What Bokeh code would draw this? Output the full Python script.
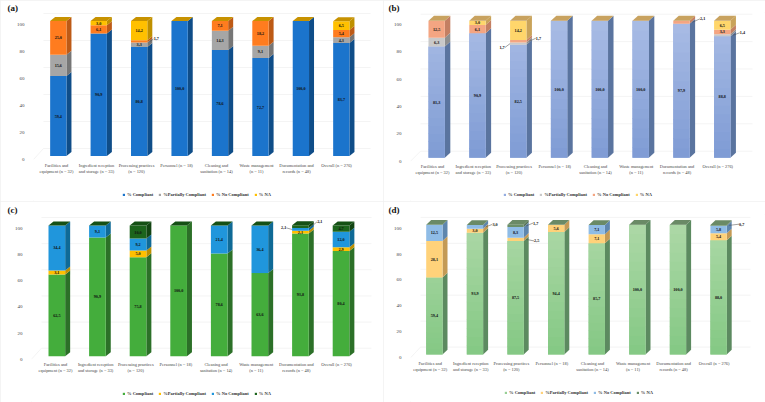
from math import pi
from bokeh.plotting import figure
from bokeh.layouts import column, row
from bokeh.models import (Range1d, FixedTicker, Legend, LegendItem, Label)
from bokeh.core.properties import value
from bokeh.embed import file_html
from bokeh.resources import INLINE

categories = ["Facilities and\nequipment (n = 32)", "Ingredient reception\nand storage (n = 33)",
              "Processing practices\n(n = 120)", "Personnel (n = 18)", "Cleaning and\nsanitation (n = 14)",
              "Waste management\n(n = 11)", "Documentation and\nrecords (n = 48)", "Overall (n = 276)"]
series_names = ["% Compliant", "%Partially Compliant", "% No Compliant", "% NA"]
y_ticks = [0, 20, 40, 60, 80, 100]

a_compliant = [59.4, 90.9, 80.8, 100.0, 78.6, 72.7, 100.0, 83.7]
a_partial = [15.6, 0, 3.3, 0, 14.3, 9.1, 0, 4.3]
a_no = [25.0, 6.1, 1.7, 0, 7.1, 18.2, 0, 5.4]
a_na = [0, 3.0, 14.2, 0, 0, 0, 0, 6.5]

b_compliant = [81.3, 90.9, 82.5, 100.0, 100.0, 100.0, 97.9, 88.8]
b_partial = [6.3, 0, 1.7, 0, 0, 0, 0, 1.4]
b_no = [12.5, 6.1, 1.7, 0, 0, 0, 2.1, 3.3]
b_na = [0, 3.0, 14.2, 0, 0, 0, 0, 6.5]

c_compliant = [62.5, 90.9, 75.8, 100.0, 78.6, 63.6, 93.8, 80.4]
c_partial = [3.1, 0, 5.0, 0, 0, 0, 2.1, 2.9]
c_no = [34.4, 9.1, 9.2, 0, 21.4, 36.4, 2.1, 12.0]
c_na = [0, 0, 10.0, 0, 0, 0, 2.1, 4.7]

d_compliant = [59.4, 93.9, 87.5, 94.4, 85.7, 100.0, 100.0, 88.0]
d_partial = [28.1, 3.0, 2.5, 5.6, 7.1, 0, 0, 5.4]
d_no = [12.5, 3.0, 8.3, 0, 7.1, 0, 0, 5.8]
d_na = [0, 0, 1.7, 0, 0, 0, 0, 0.7]

SERIF = value("Liberation Serif")

PANELS = [
    dict(tag="(a)", data=[a_compliant, a_partial, a_no, a_na], fx=0, fy=0, w=383, h=201,
         c0=57.8, sp=40.43, hw=8.15, y0=159.0, sc=1.35, base=3.4, dx=5, dy=4, wx=10, wy=11,
         fl=33, wr=370, ft=12, l0=56, ls=40.0, laby=167.7, legx=122, legy=194.3, tagx=7, ylx=13.3, yly=88,
         front=["#1b74cc", "#a6a6a6", "#ff7c1f", "#ffc000"],
         side=["#0f4d88", "#767676", "#bd5a16", "#bf9000"], top="#c79200", grad=None,
         callouts=[(2, 2, 9, -2.5, "r")]),
    dict(tag="(b)", data=[b_compliant, b_partial, b_no, b_na], fx=383, fy=0, w=382, h=201,
         c0=436.15, sp=40.8, hw=8.17, y0=160.7, sc=1.37, base=3.4, dx=5.5, dy=5, wx=10, wy=10,
         fl=410, wr=752, ft=12, l0=432, ls=40.75, laby=169, legx=503, legy=194.3, tagx=388, ylx=394, yly=89,
         front=["#94ace0", "#c9c9c9", "#f4a582", "#ffd66b"],
         side=["#5a749f", "#8f8f8f", "#c47f62", "#c9a35a"], top="#c8a25f",
         grad=("#7e9bd4", "#a9bce5"),
         callouts=[(2, 1, -8, 4, "l"), (2, 2, 12, -3, "r"), (6, 2, 13, -3.4, "r"), (7, 1, 12, -2.4, "r")]),
    dict(tag="(c)", data=[c_compliant, c_partial, c_no, c_na], fx=0, fy=201, w=383, h=201,
         c0=56.33, sp=40.6, hw=8.33, y0=358.7, sc=1.307, base=3.0, dx=5, dy=4, wx=10, wy=11,
         fl=31, wr=371, ft=214, l0=55, ls=40.14, laby=367, legx=122, legy=393, tagx=7, ylx=12.7, yly=284,
         front=["#44ad3c", "#ffc000", "#2096dc", "#1c641c"],
         side=["#2c7028", "#bf9000", "#0f6a96", "#124412"], top="#155015", grad=None,
         callouts=[(6, 2, -8.4, -1.6, "l"), (6, 3, 11, -5, "r")]),
    dict(tag="(d)", data=[d_compliant, d_partial, d_no, d_na], fx=383, fy=201, w=382, h=201,
         c0=433.85, sp=40.6, hw=8.15, y0=357.3, sc=1.297, base=3.3, dx=5, dy=4.7, wx=10, wy=10.7,
         fl=410, wr=750, ft=214, l0=429.7, ls=40.57, laby=365.5, legx=504, legy=392.7, tagx=388, ylx=393, yly=282,
         front=["#98cf95", "#ffd27a", "#8fbce6", "#6b8f68"],
         side=["#5c8a60", "#c49a55", "#5e86ad", "#557254"], top="#6a8a66",
         grad=("#84c884", "#acd8a6"),
         callouts=[(1, 2, 12, -2.5, "r"), (2, 3, 12, -2.8, "r"), (2, 1, 13, 1.5, "r"), (7, 3, 15, -1.2, "r")]),
]


def mix(c1, c2, t):
    a = [int(c1[i:i + 2], 16) for i in (1, 3, 5)]
    b = [int(c2[i:i + 2], 16) for i in (1, 3, 5)]
    return "#%02x%02x%02x" % tuple(round(a[k] + (b[k] - a[k]) * t) for k in range(3))


def fmt(v):
    return f"{v:.1f}".replace(".", ",")


def panel(cfg):
    sp, sc, c0, y0 = cfg["sp"], cfg["sc"], cfg["c0"], cfg["y0"]
    right = cfg["fx"] + cfg["w"]
    bottom = cfg["fy"] + cfg["h"]
    x_start = (cfg["fl"] - c0) / sp
    x_end = (right - c0) / sp
    y_end = (y0 - cfg["ft"]) / sc
    y_start = (y0 - bottom) / sc
    p = figure(width=cfg["w"], height=cfg["h"], output_backend="svg", toolbar_location=None,
               x_range=Range1d(x_start, x_end), y_range=Range1d(y_start, y_end),
               x_axis_location=None, min_border_left=round(cfg["fl"] - cfg["fx"]), min_border_right=0,
               min_border_top=round(cfg["ft"] - cfg["fy"]), min_border_bottom=0,
               background_fill_color="white", border_fill_color="white")
    p.outline_line_color = None
    p.grid.visible = False

    p.title.text = cfg["tag"]
    p.title.align = "left"
    p.title.offset = cfg["tagx"] - cfg["fl"]
    p.title.standoff = 0
    p.title.text_font = "Liberation Serif"
    p.title.text_font_size = "9px"
    p.title.text_font_style = "bold"
    p.title.text_color = "#111111"

    hw = cfg["hw"] / sp
    dx = cfg["dx"] / sp
    dy = cfg["dy"] / sc
    wx = cfg["wx"] / sp
    wy = cfg["wy"] / sc
    base = cfg["base"] / sc

    gx, gy = [], []
    wall_right = (cfg["wr"] - c0) / sp
    for t in y_ticks:
        gx.append([x_start + wx, wall_right])
        gy.append([t + wy, t + wy])
    gx.append([x_start, x_start + wx])
    gy.append([0, wy])
    p.multi_line(gx, gy, line_color="#efefef", line_width=0.7)

    n = len(categories)
    leg_rend = []
    bottoms = [base] * n
    label_xs, label_ys, label_txt = [], [], []
    lead_x, lead_y = [], []
    call_x, call_y, call_txt = [], [], []
    callouts = {(c[0], c[1]): c for c in cfg["callouts"]}
    for sidx, vals in enumerate(cfg["data"]):
        tops = [b + v for b, v in zip(bottoms, vals)]
        lefts = [i - hw for i in range(n)]
        rights = [i + hw for i in range(n)]
        sx = [[r, r + dx, r + dx, r] for r, v in zip(rights, vals) if v > 0]
        sy = [[b, b + dy, t + dy, t] for b, t, v in zip(bottoms, tops, vals) if v > 0]
        p.patches(sx, sy, fill_color=cfg["side"][sidx], line_color=None)
        q = p.quad(left=lefts, right=rights, bottom=bottoms, top=tops,
                   fill_color=cfg["front"][sidx], line_color=None)
        leg_rend.append(q)
        if sidx == 0 and cfg["grad"]:
            strips = 14
            sl, sr, sb, st, sc2 = [], [], [], [], []
            for i in range(n):
                for k in range(strips):
                    lo = vals[i] * k / strips
                    hi = vals[i] * (k + 1) / strips
                    sl.append(lefts[i]); sr.append(rights[i])
                    sb.append(base + lo)
                    st.append(base + min(hi + 0.4, vals[i]))
                    sc2.append(mix(cfg["grad"][0], cfg["grad"][1], (lo + hi) / 200))
            p.quad(left=sl, right=sr, bottom=sb, top=st, fill_color=sc2, line_color=None)
        for i, v in enumerate(vals):
            if v <= 0:
                continue
            mid = bottoms[i] + v / 2
            key = (i, sidx)
            if key in callouts:
                _, _, ox, oy, side = callouts[key]
                ex = i + hw if side == "r" else i - hw
                tx = ex + ox / sp
                ty = mid - oy / sc
                call_x.append(tx); call_y.append(ty); call_txt.append(fmt(v))
                lead_x.append([ex + (dx / 2 if side == "r" else 0), tx - (2.7 / sp if side == "r" else -2.7 / sp)])
                lead_y.append([mid, ty])
            else:
                label_xs.append(i); label_ys.append(mid); label_txt.append(fmt(v))
        bottoms = tops

    tx = [[i - hw, i - hw + dx, i + hw + dx, i + hw] for i in range(n)]
    ty = [[t, t + dy, t + dy, t] for t in bottoms]
    p.patches(tx, ty, fill_color=cfg["top"], line_color=None)

    p.text(label_xs, label_ys, text=label_txt, text_font=SERIF, text_font_size="4.2px", text_font_style="bold",
           text_align="center", text_baseline="middle", text_color="#111111")
    if call_txt:
        p.multi_line(lead_x, lead_y, line_color="#444444", line_width=0.5)
        p.text(call_x, call_y, text=call_txt, text_font=SERIF, text_font_size="4.2px", text_font_style="bold",
               text_align="center", text_baseline="middle", text_color="#111111")

    yax = p.yaxis[0]
    yax.ticker = FixedTicker(ticks=y_ticks)
    yax.axis_line_color = None
    yax.major_tick_line_color = None
    yax.minor_tick_line_color = None
    yax.major_label_standoff = 3
    yax.major_label_text_font = "Liberation Serif"
    yax.major_label_text_font_size = "5px"
    yax.major_label_text_color = "#444444"

    cat_x = [(cfg["l0"] + cfg["ls"] * i - c0) / sp for i in range(n)]
    cat_y = [(y0 - cfg["laby"]) / sc] * n
    one_line = [c if "\n" in c else c + "\n " for c in categories]
    p.text(cat_x, cat_y, text=one_line, text_font=SERIF, text_font_size="4.4px", text_color="#444444",
           text_align="center", text_baseline="middle", text_line_height=1.2)

    legend = Legend(items=[LegendItem(label=value(nm), renderers=[r]) for nm, r in zip(series_names, leg_rend)],
                    orientation="horizontal",
                    location=(cfg["legx"] - cfg["fl"], bottom - cfg["legy"] - 2.5),
                    glyph_width=3, glyph_height=3, label_standoff=2, spacing=5, padding=0, margin=0,
                    label_height=5, label_text_font="Liberation Serif", label_text_font_size="4.5px",
                    label_text_font_style="bold", label_text_color="#333333",
                    border_line_color=None, background_fill_color=None, background_fill_alpha=0)
    p.add_layout(legend)

    p.add_layout(Label(x=(cfg["ylx"] - c0) / sp, y=(y0 - cfg["yly"]) / sc, text="(%)", angle=pi / 2,
                       text_font="Liberation Serif", text_font_size="5.5px", text_font_style="bold",
                       text_color="#222222", text_baseline="middle", text_align="center"))
    p.styles = {"box-shadow": "inset 0 0 0 1px #f0f0f0"}
    return p


figs = [panel(c) for c in PANELS]
layout = column(row(figs[0], figs[1], spacing=0), row(figs[2], figs[3], spacing=0), spacing=0)
open("out.html", "w").write(file_html(layout, INLINE))
